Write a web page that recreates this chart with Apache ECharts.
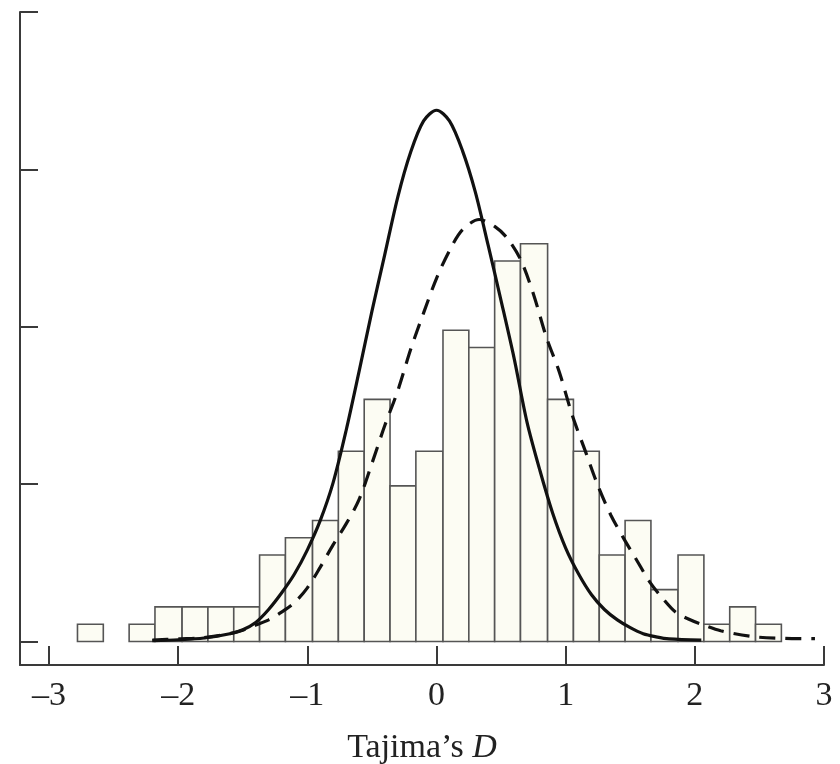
<!DOCTYPE html>
<html>
<head>
<meta charset="utf-8">
<script src="https://cdn.jsdelivr.net/npm/echarts@6/dist/echarts.min.js"></script>
<style>
  html, body { margin: 0; padding: 0; background: #fff; }
  #chart { width: 840px; height: 764px; }
</style>
</head>
<body>
<div id="chart"></div>
<script>
// histogram bins (Tajima's D), edges
const binEdges = [-2.78, -2.58, -2.38, -2.18, -1.97, -1.77, -1.57, -1.37, -1.17, -0.96,
  -0.76, -0.56, -0.36, -0.16, 0.05, 0.25, 0.45, 0.65, 0.86, 1.06,
  1.26, 1.46, 1.66, 1.87, 2.07, 2.27, 2.47, 2.67]
const counts = [1, 0, 1, 2, 2, 2, 2, 5, 6, 7, 11, 14, 9, 11, 18, 17, 22, 23, 14, 11, 5, 7, 3, 5, 1, 2, 1]

// solid curve
const solidX = [-2.2, -2.0, -1.8, -1.6, -1.5, -1.4, -1.3, -1.2, -1.1, -1.0,
  -0.9, -0.8, -0.7, -0.6, -0.5, -0.4, -0.3, -0.2, -0.1, 0,
  0.1, 0.2, 0.3, 0.4, 0.5, 0.6, 0.7, 0.8, 0.9, 1.0,
  1.1, 1.2, 1.3, 1.4, 1.5, 1.6, 1.7, 1.8, 2.05]
const solidY = [0.05, 0.1, 0.2, 0.45, 0.68, 1.1, 1.85, 2.8, 3.9, 5.3,
  7.0, 9.2, 12.2, 15.6, 19.1, 22.4, 25.7, 28.3, 30.1, 30.72,
  30.1, 28.4, 26.0, 22.9, 19.7, 16.4, 12.7, 9.9, 7.4, 5.4,
  3.9, 2.7, 1.85, 1.25, 0.8, 0.45, 0.27, 0.15, 0.08]

// dashed curve
const dashedX = [-2.2, -2.0, -1.8, -1.6, -1.5, -1.4, -1.3, -1.2, -1.1, -1.0,
  -0.9, -0.8, -0.7, -0.6, -0.5, -0.4, -0.3, -0.2, -0.1, 0.0,
  0.1, 0.2, 0.33, 0.45, 0.55, 0.65, 0.75, 0.85, 0.95, 1.05,
  1.15, 1.25, 1.35, 1.45, 1.55, 1.65, 1.75, 1.85, 1.95, 2.05,
  2.2, 2.45, 2.7, 2.93]
const dashedY = [0.08, 0.15, 0.22, 0.45, 0.65, 0.95, 1.25, 1.7, 2.25, 3.1,
  4.3, 5.6, 6.8, 8.2, 10.3, 12.5, 14.5, 16.9, 19.0, 21.0,
  22.6, 23.8, 24.4, 24.0, 23.3, 22.1, 20.1, 17.6, 15.6, 13.1,
  11.05, 9.0, 7.3, 5.95, 4.7, 3.45, 2.5, 1.7, 1.3, 1.0,
  0.62, 0.28, 0.18, 0.16]

const xTicks = [-3, -2, -1, 0, 1, 2, 3]
const yTicks = [0, 9.1, 18.2, 27.3, 36.4]

const chart = echarts.init(document.getElementById('chart'))

const bars = counts.map((c, i) => [binEdges[i], binEdges[i + 1], c])
const zip = (xs, ys) => xs.map((x, i) => [x, ys[i]])

const axisColor = '#3a3a3a'

const option = {
  backgroundColor: '#fff',
  animation: false,
  grid: {
    left: 20,
    right: 16,
    top: 12,
    bottom: 99,
    containLabel: false,
    outerBoundsMode: 'none'
  },
  xAxis: {
    type: 'value',
    min: -3.225,
    max: 3,
    name: '{a|Tajima’s }{b|D}',
    nameLocation: 'middle',
    nameGap: 66,
    nameTextStyle: {
      rich: {
        a: { fontFamily: 'Liberation Serif', fontSize: 34, color: '#222' },
        b: { fontFamily: 'Liberation Serif', fontSize: 34, fontStyle: 'italic', color: '#222' }
      }
    },
    axisLine: { show: true, onZero: false, lineStyle: { color: axisColor, width: 2 } },
    axisTick: {
      show: true,
      inside: true,
      length: 19,
      customValues: xTicks,
      lineStyle: { color: axisColor, width: 2 }
    },
    axisLabel: {
      customValues: xTicks,
      margin: 14,
      fontFamily: 'Liberation Serif',
      fontSize: 34,
      color: '#222',
      formatter: v => String(v).replace('-', '–')
    },
    splitLine: { show: false }
  },
  yAxis: {
    type: 'value',
    min: -1.36,
    max: 36.4,
    axisLine: { show: true, onZero: false, lineStyle: { color: axisColor, width: 2 } },
    axisTick: {
      show: true,
      inside: true,
      length: 18,
      customValues: yTicks,
      lineStyle: { color: axisColor, width: 2 }
    },
    axisLabel: { show: false },
    splitLine: { show: false }
  },
  series: [
    {
      type: 'custom',
      data: bars,
      encode: { x: [0, 1], y: 2 },
      renderItem: (params, api) => {
        if (api.value(2) <= 0) return null
        const p0 = api.coord([api.value(0), api.value(2)])
        const p1 = api.coord([api.value(1), 0])
        return {
          type: 'rect',
          shape: { x: p0[0], y: p0[1], width: p1[0] - p0[0], height: p1[1] - p0[1] },
          style: { fill: '#fcfcf3', stroke: '#555', lineWidth: 1.6 }
        }
      },
      z: 2
    },
    {
      type: 'line',
      data: zip(dashedX, dashedY),
      smooth: 0.3,
      showSymbol: false,
      lineStyle: { color: '#111', width: 3.2, type: [16, 10] },
      z: 3
    },
    {
      type: 'line',
      data: zip(solidX, solidY),
      smooth: 0.3,
      showSymbol: false,
      lineStyle: { color: '#111', width: 3.2 },
      z: 4
    }
  ]
}

chart.setOption(option)
</script>
</body>
</html>
